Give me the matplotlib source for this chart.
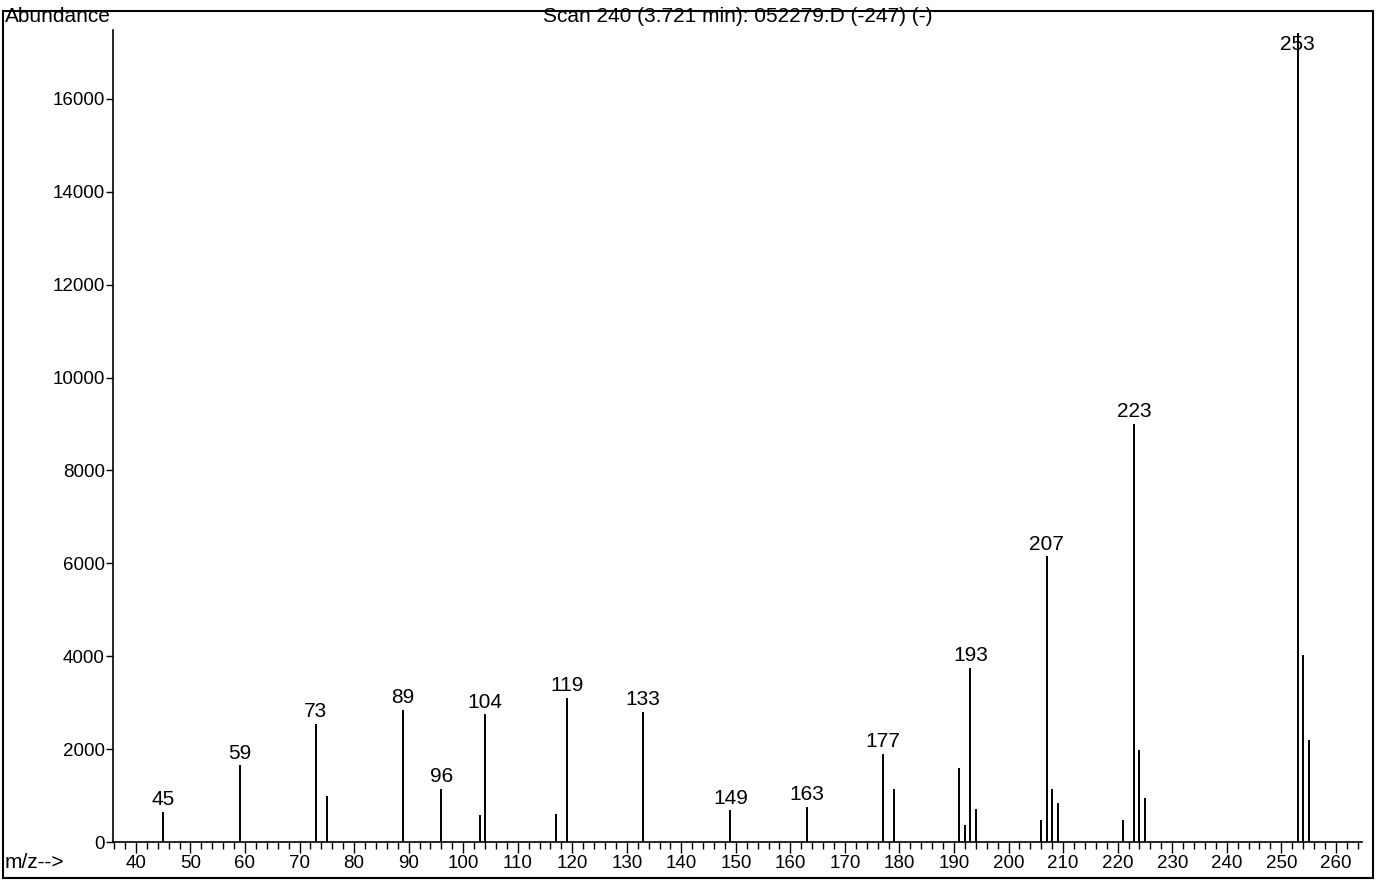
import numpy as np
import matplotlib
matplotlib.use("Agg")
import matplotlib.pyplot as plt
from matplotlib.ticker import MultipleLocator
from matplotlib.patches import Rectangle

plt.rcParams['font.family'] = ['Liberation Sans', 'DejaVu Sans']

# m/z and abundance
mz = [45, 59, 73, 75, 89, 96, 103, 104, 117, 119, 133, 149, 163, 177, 179,
      191, 192, 193, 194, 206, 207, 208, 209, 221, 223, 224, 225, 253, 254, 255]
abundance = [650, 1650, 2550, 1000, 2850, 1150, 580, 2750, 600, 3100, 2800, 680, 750, 1900, 1150,
             1600, 370, 3750, 700, 470, 6150, 1150, 840, 470, 9000, 1980, 950, 17420, 4020, 2200]

# peaks that carry a label
labeled = [45, 59, 73, 89, 96, 104, 119, 133, 149, 163, 177, 193, 207, 223, 253]

yticks = [0, 2000, 4000, 6000, 8000, 10000, 12000, 14000, 16000]
xticks = list(range(40, 261, 10))

title = "Scan 240 (3.721 min): 052279.D (-247) (-)"

fig = plt.figure(figsize=(13.87, 8.80), dpi=100)
ax = fig.add_axes([113 / 1387, 38 / 880, (1362 - 113) / 1387, (842 - 30) / 880])

ax.vlines(mz, 0, abundance, color='black', lw=1.4)

ax.set_xlim(35.8, 264.8)
ax.set_ylim(0, 17485)

ax.set_xticks(xticks)
ax.xaxis.set_minor_locator(MultipleLocator(2))
ax.set_yticks(yticks)
ax.tick_params(axis='x', which='major', direction='out', length=8, width=1, labelsize=13.5, pad=1)
ax.tick_params(axis='x', which='minor', direction='out', length=5, width=1)
ax.tick_params(axis='y', direction='out', length=5, width=1, labelsize=13.5, pad=1)

for s in ['top', 'right']:
    ax.spines[s].set_visible(False)
ax.spines['left'].set_linewidth(1.2)
ax.spines['bottom'].set_linewidth(1.2)

cap = 17180
for m, a in zip(mz, abundance):
    if m not in labeled:
        continue
    if a > 16500:
        ax.text(m, cap, str(m), ha='center', va='center', fontsize=15)
    else:
        ax.annotate(str(m), (m, a), xytext=(0, 2), textcoords='offset points',
                    ha='center', va='bottom', fontsize=15)

# header and footer texts
fig.text(5 / 1387, 1 - 17 / 880, "Abundance", ha='left', va='center', fontsize=15)
fig.text(ax.get_position().x0 + ax.get_position().width / 2, 1 - 17 / 880, title,
         ha='center', va='center', fontsize=15)
fig.text(5 / 1387, 1 - 862 / 880, "m/z-->", ha='left', va='center', fontsize=15)

# outer frame of the printout
fig.patches.append(Rectangle((3 / 1387, 2 / 880), (1373 - 3) / 1387, (869 - 2) / 880,
                             transform=fig.transFigure, fill=False, lw=1.5, color='black'))

fig.savefig("out.png", dpi=100)
